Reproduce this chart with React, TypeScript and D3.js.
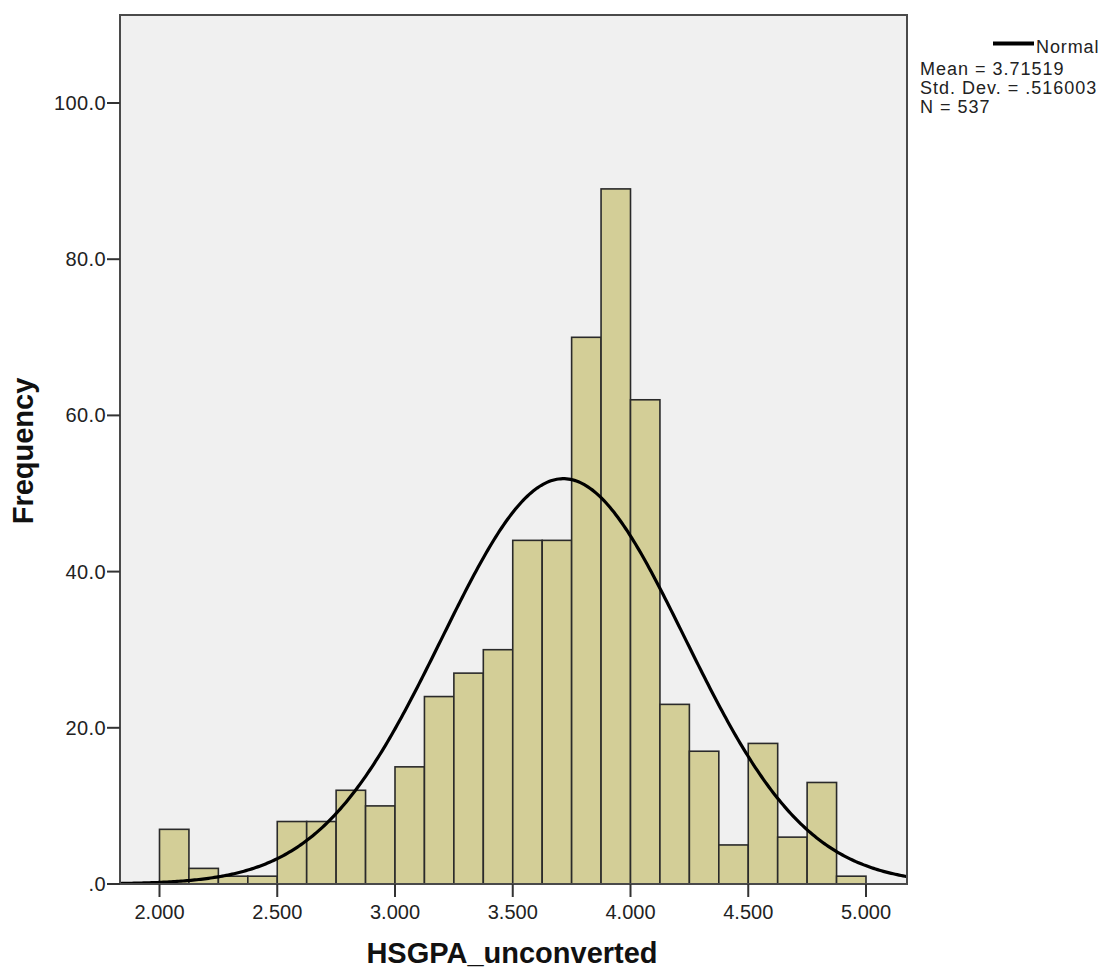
import React from "react";
import * as d3 from "d3";

const binStarts = [2.0, 2.125, 2.25, 2.375, 2.5, 2.625, 2.75, 2.875, 3.0, 3.125, 3.25, 3.375, 3.5, 3.625, 3.75, 3.875, 4.0, 4.125, 4.25, 4.375, 4.5, 4.625, 4.75, 4.875];
const counts = [7, 2, 1, 1, 8, 8, 12, 10, 15, 24, 27, 30, 44, 44, 70, 89, 62, 23, 17, 5, 18, 6, 13, 1];
const binWidth = 0.125;
const xTicks = [2.0, 2.5, 3.0, 3.5, 4.0, 4.5, 5.0];
const yTicks = [0, 20, 40, 60, 80, 100];
const mean = 3.71519;
const sd = 0.516003;
const n = 537;
const legendLines = ["Mean = 3.71519", "Std. Dev. = .516003", "N = 537"];

export default function App() {
  const left = 120, right = 907, top = 15, bottom = 884;
  const x = d3.scaleLinear().domain([2.0, 5.0]).range([159.5, 866]);
  const y = d3.scaleLinear().domain([0, 100]).range([bottom, 103]);
  const xMin = x.invert(left), xMax = x.invert(right);
  const pdf = (v: number) => (n * binWidth) / (sd * Math.sqrt(2 * Math.PI)) * Math.exp(-0.5 * ((v - mean) / sd) ** 2);
  const pts = d3.range(0, 401).map(i => xMin + (xMax - xMin) * i / 400);
  const line = d3.line<number>().x(v => x(v)).y(v => y(pdf(v))).curve(d3.curveLinear);
  const font = "'Liberation Sans', Arial, sans-serif";
  const fmtY = (v: number) => v === 0 ? ".0" : v.toFixed(1);
  return (
    <svg width={1110} height={970} style={{ position: "absolute", left: 0, top: 0 }} fontFamily={font}>
      <rect x={0} y={0} width={1110} height={970} fill="#ffffff" />
      <rect x={left} y={top} width={right - left} height={bottom - top} fill="#f0f0f0" />
      {counts.map((c, i) => (
        <rect key={i} x={x(binStarts[i])} y={y(c)} width={x(binStarts[i] + binWidth) - x(binStarts[i])} height={bottom - y(c)}
          fill="#d3ce97" stroke="#2a2a2a" strokeWidth={1.6} />
      ))}
      <path d={line(pts) || ""} fill="none" stroke="#000" strokeWidth={3.2} />
      <rect x={left} y={top} width={right - left} height={bottom - top} fill="none" stroke="#4a4a4a" strokeWidth={2} />
      {yTicks.map(t => (
        <g key={t}>
          <line x1={left - 13} x2={left} y1={y(t)} y2={y(t)} stroke="#333" strokeWidth={2} />
          <text x={left - 14} y={y(t)} dy="0.35em" textAnchor="end" fontSize={20} letterSpacing={0.4} fill="#222">{fmtY(t)}</text>
        </g>
      ))}
      {xTicks.map(t => (
        <g key={t}>
          <line x1={x(t)} x2={x(t)} y1={bottom} y2={bottom + 13} stroke="#333" strokeWidth={2} />
          <text x={x(t)} y={919} textAnchor="middle" fontSize={20} fill="#222">{t.toFixed(3)}</text>
        </g>
      ))}
      <text x={512} y={963} textAnchor="middle" fontSize={29} fontWeight="bold" fill="#111">HSGPA_unconverted</text>
      <text transform={`translate(33,451) rotate(-90)`} textAnchor="middle" fontSize={29} fontWeight="bold" fill="#111">Frequency</text>
      <line x1={993} x2={1034} y1={43.5} y2={43.5} stroke="#000" strokeWidth={4} />
      <text x={1036} y={53} fontSize={18} letterSpacing={0.9} fill="#222">Normal</text>
      {legendLines.map((s, i) => (
        <text key={i} x={920} y={75 + i * 19} fontSize={18} letterSpacing={1} fill="#222">{s}</text>
      ))}
    </svg>
  );
}
